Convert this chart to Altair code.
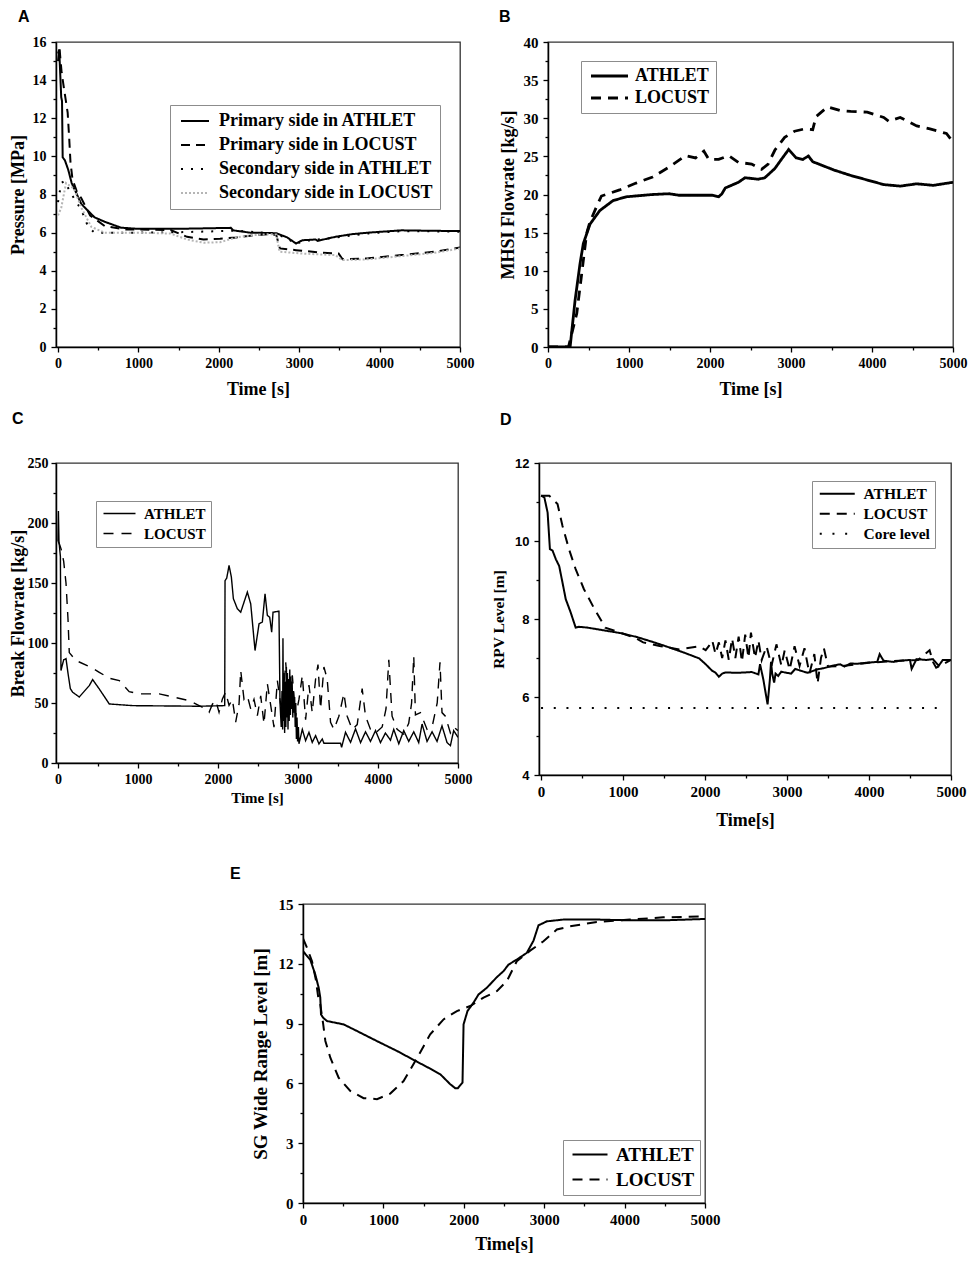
import altair as alt
import pandas as pd

SERIF = "Liberation Serif"
SANS = "Liberation Sans"

# ---------------- tick values ----------------
X_MAJOR = [0, 1000, 2000, 3000, 4000, 5000]
X_MINOR = [500, 1500, 2500, 3500, 4500]
A_Y_MAJOR = [0, 2, 4, 6, 8, 10, 12, 14, 16]
A_Y_MINOR = [1, 3, 5, 7, 9, 11, 13, 15]
B_Y_MAJOR = [0, 5, 10, 15, 20, 25, 30, 35, 40]
B_Y_MINOR = [2.5, 7.5, 12.5, 17.5, 22.5, 27.5, 32.5, 37.5]
C_Y_MAJOR = [0, 50, 100, 150, 200, 250]
C_Y_MINOR = [25, 75, 125, 175, 225]
D_Y_MAJOR = [4, 6, 8, 10, 12]
D_Y_MINOR = [5, 7, 9, 11]
E_Y_MAJOR = [0, 3, 6, 9, 12, 15]
E_Y_MINOR = [1.5, 4.5, 7.5, 10.5, 13.5]

# ---------------- panel A: pressure [MPa] ----------------
A_PRIMARY_ATHLET = [(0, 15.4), (15, 15.6), (40, 13.1), (50, 12.9), (58, 9.95), (85, 9.8), (127, 9.3),
                    (170, 8.6), (290, 7.5), (455, 6.8), (580, 6.57), (785, 6.26), (990, 6.2),
                    (1500, 6.2), (2150, 6.25), (2180, 6.12), (2385, 6.0), (2715, 5.97), (2850, 5.75),
                    (2960, 5.43), (3040, 5.6), (3205, 5.64), (3230, 5.57), (3450, 5.78), (3657, 5.92),
                    (3862, 6.0), (4068, 6.06), (4273, 6.12), (4600, 6.1), (5000, 6.08)]
A_PRIMARY_LOCUST = [(0, 15.0), (18, 15.7), (45, 14.4), (80, 13.4), (120, 12.3), (140, 10.9), (155, 9.7),
                    (180, 8.8), (230, 8.2), (290, 7.8), (400, 6.9), (580, 6.35), (825, 6.17),
                    (1400, 6.14), (1605, 5.78), (1810, 5.64), (2015, 5.68), (2220, 5.75), (2425, 5.85),
                    (2630, 5.92), (2715, 5.87), (2760, 5.17), (2960, 5.08), (3247, 4.96), (3490, 4.9),
                    (3540, 4.6), (3860, 4.65), (4273, 4.82), (4684, 5.0), (5000, 5.22)]
A_SECONDARY_ATHLET = [(0, 7.6), (40, 8.6), (80, 8.7), (170, 8.0), (290, 7.2), (375, 6.3), (455, 6.0),
                      (990, 6.0), (1500, 6.02), (2220, 6.1), (2700, 5.95), (2850, 5.7), (2960, 5.4),
                      (3040, 5.55), (3450, 5.74), (3862, 5.96), (4273, 6.08), (5000, 6.05)]
A_SECONDARY_LOCUST = [(0, 6.9), (40, 7.3), (100, 8.6), (200, 8.3), (290, 7.3), (415, 6.3), (580, 6.0),
                      (1000, 6.0), (1400, 5.95), (1605, 5.64), (1810, 5.47), (2015, 5.5), (2220, 5.75),
                      (2425, 5.87), (2630, 5.92), (2715, 5.9), (2755, 5.0), (3040, 4.9), (3450, 4.82),
                      (3535, 4.56), (3860, 4.6), (4273, 4.77), (4684, 4.94), (5000, 5.17)]

# ---------------- panel B: MHSI flowrate [kg/s] ----------------
B_ATHLET = [(0, 0), (273, 0), (334, 6.1), (395, 10.9), (436, 13.55), (518, 16.1), (640, 17.9),
            (803, 19.2), (966, 19.7), (1292, 20.0), (1496, 20.1), (1618, 19.9), (2025, 19.9),
            (2107, 19.7), (2148, 20.1), (2188, 20.85), (2351, 21.6), (2433, 22.2), (2596, 22.0),
            (2677, 22.2), (2800, 23.4), (2881, 24.6), (2971, 25.9), (3064, 24.8), (3146, 24.6),
            (3215, 25.05), (3268, 24.3), (3533, 23.2), (3737, 22.5), (3941, 21.9), (4145, 21.3),
            (4348, 21.1), (4552, 21.4), (4756, 21.2), (5000, 21.6)]
B_LOCUST = [(0, 0), (253, 0), (293, 1.75), (355, 4.4), (416, 9.6), (477, 14.9), (518, 16.4), (599, 18.4),
            (660, 19.8), (884, 20.6), (1088, 21.5), (1292, 22.3), (1496, 23.6), (1700, 25.1),
            (1822, 24.8), (1924, 25.7), (1985, 24.6), (2107, 24.6), (2229, 25.1), (2351, 24.2),
            (2514, 24.0), (2636, 23.3), (2718, 24.0), (2800, 25.8), (2922, 27.5), (3044, 28.3),
            (3166, 28.6), (3268, 28.5), (3309, 30.2), (3452, 31.5), (3615, 31.0), (3737, 30.9),
            (3941, 30.8), (4145, 30.1), (4206, 29.6), (4348, 30.1), (4552, 29.0), (4715, 28.6),
            (4919, 28.0), (5000, 26.9)]

# ---------------- panel C: break flowrate [kg/s] ----------------
C_ATHLET = [(0, 185), (5, 210), (12, 185), (30, 172), (37, 77), (71, 86), (100, 87), (129, 73),
            (154, 62), (183, 59), (266, 55), (391, 64.5), (433, 69.5), (516, 61.7), (641, 49.2),
            (932, 47.8), (1764, 47.3), (2084, 47.8), (2088, 152), (2109, 154), (2138, 164.6),
            (2167, 155), (2192, 137), (2242, 128.5), (2284, 125.7), (2325, 134), (2367, 142.4),
            (2409, 132.6), (2463, 93.7), (2513, 116), (2554, 117.4), (2588, 141), (2617, 123),
            (2646, 121.5), (2671, 109), (2688, 125.7), (2762, 126.5), (2775, 50), (2790, 30),
            (2800, 60), (2808, 28), (2812, 104), (2818, 35), (2826, 75), (2833, 25), (2840, 68),
            (2848, 30), (2855, 80), (2862, 38), (2868, 75), (2875, 28), (2882, 70), (2890, 35),
            (2897, 78), (2905, 40), (2912, 72), (2920, 45), (2927, 68), (2935, 38), (2942, 60),
            (2950, 42), (2958, 55), (2965, 30), (2972, 50), (2980, 20), (2988, 38), (2995, 18),
            (3005, 30), (3012, 16), (3054, 28), (3095, 18.6), (3137, 25.6), (3178, 17.2),
            (3220, 22.8), (3262, 15.9), (3303, 20), (3324, 16.5), (3532, 16.5), (3545, 13),
            (3594, 25.6), (3657, 17.2), (3719, 28.4), (3782, 17), (3844, 26), (3906, 18), (3969, 27),
            (4031, 17), (4093, 25), (4156, 19), (4197, 28), (4260, 16), (4322, 27), (4384, 18),
            (4447, 26), (4509, 17), (4551, 32.5), (4613, 18), (4676, 26), (4738, 18), (4800, 31),
            (4863, 17), (4905, 14.5), (4946, 27), (5000, 21.4)]
C_LOCUST = [(0, 185), (20, 182), (40, 178), (71, 168), (100, 150), (125, 120), (141, 92), (225, 85.4),
            (433, 79), (516, 75.6), (641, 70.6), (766, 68.7), (890, 59.5), (1015, 57.6), (1265, 57.6),
            (1473, 54.5), (1639, 52), (1764, 47.8), (1847, 45), (1889, 42.3), (1930, 49), (1972, 52),
            (2013, 42.3), (2055, 53.4), (2096, 59), (2138, 48), (2180, 53), (2221, 34), (2263, 49),
            (2284, 77), (2325, 53), (2367, 56), (2409, 45), (2450, 53), (2492, 39.5), (2534, 56),
            (2575, 32.5), (2617, 66), (2659, 48), (2700, 29.8), (2742, 68.7), (2804, 39), (2846, 84),
            (2887, 48), (2929, 73), (2970, 39), (3012, 53), (3054, 73), (3095, 36), (3137, 65),
            (3178, 42), (3220, 70), (3250, 82), (3282, 45), (3324, 80), (3365, 70), (3407, 34),
            (3449, 28), (3511, 39), (3574, 58), (3615, 39), (3678, 28), (3740, 32), (3802, 62),
            (3844, 39), (3906, 28), (3969, 25), (4052, 30), (4100, 45), (4135, 86), (4176, 39),
            (4239, 28), (4322, 24), (4384, 33), (4420, 50), (4447, 89), (4468, 40), (4530, 42),
            (4613, 28), (4676, 30), (4740, 50), (4775, 84), (4800, 42), (4842, 39), (4905, 25),
            (4946, 30), (5000, 27)]

# ---------------- panel D: RPV level [m] ----------------
D_ATHLET = [(0, 11.16), (40, 11.12), (80, 10.73), (108, 9.79), (141, 9.75), (181, 9.53), (221, 9.36),
            (261, 8.94), (301, 8.51), (361, 8.17), (422, 7.78), (462, 7.8), (562, 7.78), (763, 7.71),
            (964, 7.64), (1165, 7.54), (1365, 7.41), (1566, 7.27), (1767, 7.12), (1928, 6.99),
            (2008, 6.84), (2088, 6.67), (2130, 6.62), (2169, 6.52), (2210, 6.6), (2249, 6.63),
            (2400, 6.62), (2570, 6.64), (2651, 6.58), (2671, 6.84), (2711, 6.45), (2763, 5.81),
            (2791, 6.45), (2805, 6.9), (2819, 6.6), (2843, 6.37), (2860, 6.6), (2892, 6.54),
            (2930, 6.65), (2972, 6.63), (3050, 6.6), (3100, 6.72), (3173, 6.67), (3250, 6.62),
            (3373, 6.71), (3450, 6.74), (3574, 6.81), (3650, 6.84), (3700, 6.78), (3775, 6.86),
            (3850, 6.85), (3976, 6.88), (4100, 6.9), (4130, 7.1), (4177, 6.93), (4300, 6.9),
            (4378, 6.93), (4500, 6.95), (4520, 6.72), (4579, 6.97), (4700, 6.95), (4779, 6.97),
            (4850, 6.8), (4900, 6.95), (5000, 6.95)]
D_LOCUST = [(0, 11.16), (100, 11.16), (201, 10.95), (261, 10.39), (341, 9.79), (422, 9.28), (522, 8.77),
            (643, 8.29), (783, 7.78), (964, 7.65), (1165, 7.5), (1245, 7.4), (1446, 7.31), (1687, 7.22),
            (1928, 7.3), (2008, 7.2), (2048, 7.31), (2088, 7.45), (2128, 7.1), (2169, 7.4), (2209, 7.0),
            (2249, 7.45), (2290, 6.95), (2330, 7.5), (2370, 7.0), (2410, 7.55), (2450, 6.9), (2490, 7.6),
            (2530, 7.0), (2560, 7.65), (2610, 7.0), (2651, 7.45), (2691, 6.95), (2751, 7.3), (2811, 6.8),
            (2871, 7.35), (2932, 6.8), (2972, 7.2), (3032, 6.7), (3092, 7.3), (3153, 6.8), (3213, 7.25),
            (3273, 6.6), (3333, 7.1), (3373, 6.35), (3414, 7.0), (3450, 7.25), (3500, 6.78), (3700, 6.8),
            (4000, 6.88), (4300, 6.92), (4600, 6.95), (4739, 7.2), (4780, 6.9), (4819, 6.75), (5000, 6.95)]
D_CORE = [(0, 5.72), (4870, 5.72)]

# ---------------- panel E: SG wide range level [m] ----------------
E_ATHLET = [(0, 12.63), (91, 12.2), (153, 11.46), (195, 10.8), (215, 10.3), (224, 9.46), (249, 9.3),
            (298, 9.13), (505, 8.96), (671, 8.63), (837, 8.29), (961, 8.04), (1168, 7.63), (1375, 7.18),
            (1582, 6.74), (1707, 6.46), (1831, 5.96), (1893, 5.76), (1926, 5.76), (1984, 6.04),
            (1997, 8.96), (2046, 9.63), (2121, 10.05), (2183, 10.46), (2287, 10.8), (2411, 11.33),
            (2494, 11.63), (2556, 11.96), (2659, 12.21), (2784, 12.55), (2867, 13.16), (2929, 13.93),
            (3033, 14.13), (3240, 14.22), (3654, 14.22), (4068, 14.18), (4482, 14.18), (5000, 14.25)]
E_LOCUST = [(0, 13.27), (50, 12.8), (112, 12.13), (160, 11.2), (190, 10.3), (215, 9.96), (249, 9.04),
            (278, 8.13), (340, 7.29), (443, 6.29), (588, 5.62), (754, 5.26), (920, 5.21), (1085, 5.49),
            (1251, 6.12), (1417, 7.26), (1582, 8.46), (1748, 9.21), (1914, 9.63), (2080, 9.88),
            (2245, 10.3), (2411, 10.63), (2535, 11.13), (2659, 12.13), (2825, 12.66), (2991, 13.13),
            (3157, 13.72), (3323, 13.88), (3654, 14.1), (4068, 14.22), (4482, 14.33), (5000, 14.38)]


def to_df(series):
    rows = []
    for name, pts in series:
        for i, (t, v) in enumerate(pts):
            rows.append({"series": name, "t": t, "v": v, "i": i})
    return pd.DataFrame(rows)


SYM_H = 10  # height budget of a legend symbol cell


def panel(series, colors, dashes, sw, xdom, ydom, ymajor, yminor, xtitle, ytitle, letter, w, h, st):
    names = [n for n, _ in series]
    df = to_df(series)
    r = SYM_H / 2
    k = st["sym"] / r - 1
    leg = alt.Legend(title=None, orient="none", legendX=st["lx"], legendY=st["ly"],
                     direction="vertical", symbolType=f"M-1,0L{k:.3f},0", symbolSize=SYM_H ** 2,
                     symbolStrokeWidth=sw, labelFont=SERIF, labelFontWeight="bold",
                     labelFontSize=st["lfs"], labelColor="black", strokeColor="#8c8c8c",
                     fillColor="white", padding=st["pad"], rowPadding=st["rowgap"] - st["lfs"],
                     labelOffset=st["sym"] - SYM_H + st["loff"], labelLimit=400)
    xs = alt.Scale(domain=xdom, nice=False, zero=False)
    ys = alt.Scale(domain=ydom, nice=False, zero=False)
    base = alt.Chart(df)
    lines = base.mark_line(strokeWidth=sw, clip=True).encode(
        x=alt.X("t:Q", scale=xs,
                axis=alt.Axis(values=X_MAJOR, format="d", orient="bottom", tickSize=5,
                              title=xtitle, titleFontSize=st["xts"], labelFontSize=st["xls"],
                              labelPadding=4, titlePadding=st["xtp"])),
        y=alt.Y("v:Q", scale=ys,
                axis=alt.Axis(values=ymajor, format="d", orient="left", tickSize=5,
                              title=ytitle, titleFontSize=st["yts"], labelFontSize=st["yls"],
                              labelFont=st.get("ylf", SERIF), labelPadding=st.get("ylp", 5),
                              titlePadding=st["ytp"])),
        color=alt.Color("series:N", scale=alt.Scale(domain=names, range=colors), legend=leg),
        strokeDash=alt.StrokeDash("series:N", scale=alt.Scale(domain=names, range=dashes), legend=leg),
        order="i:Q",
    )
    minor = base.mark_point(opacity=0).encode(
        x=alt.X("t:Q", scale=xs,
                axis=alt.Axis(values=X_MINOR, orient="bottom", labels=False, domain=False,
                              tickSize=3, title=None)),
        y=alt.Y("v:Q", scale=ys,
                axis=alt.Axis(values=yminor, orient="left", labels=False, domain=False,
                              tickSize=3, title=None)),
    )
    return alt.layer(lines, minor).resolve_axis(x="independent", y="independent").properties(
        width=w, height=h,
        title=alt.TitleParams(letter, anchor="start", frame="group", font=SANS, fontSize=16,
                              fontWeight="bold", color="black", dx=st["tdx"], offset=st["toff"]),
    )


SOLID = [1, 0]

chart_a = panel(
    [("Primary side in ATHLET", A_PRIMARY_ATHLET), ("Primary side in LOCUST", A_PRIMARY_LOCUST),
     ("Secondary side in ATHLET", A_SECONDARY_ATHLET), ("Secondary side in LOCUST", A_SECONDARY_LOCUST)],
    ["black", "black", "black", "#b5b5b5"], [SOLID, [9, 6], [2, 8], [2, 2]], 2,
    [-25, 5000], [0, 16], A_Y_MAJOR, A_Y_MINOR, "Time [s]", "Pressure [MPa]", "A", 404, 305,
    dict(lx=114, ly=63, sym=28, lfs=18, pad=7, rowgap=24, loff=6, xts=18, xls=14, xtp=10,
         yts=18, yls=14, ytp=5, tdx=-38, toff=10))

chart_b = panel(
    [("ATHLET", B_ATHLET), ("LOCUST", B_LOCUST)],
    ["black", "black"], [SOLID, [10, 7]], 2.8,
    [0, 5000], [0, 40], B_Y_MAJOR, B_Y_MINOR, "Time [s]", "MHSI Flowrate [kg/s]", "B", 405, 305,
    dict(lx=33, ly=19, sym=37, lfs=18, pad=6, rowgap=22, loff=3, xts=18, xls=14, xtp=10,
         yts=18, yls=15, ytp=6, tdx=-49, toff=10))

chart_c = panel(
    [("ATHLET", C_ATHLET), ("LOCUST", C_LOCUST)],
    ["black", "black"], [SOLID, [10, 8]], 1.4,
    [-25, 5000], [0, 250], C_Y_MAJOR, C_Y_MINOR, "Time [s]", "Break Flowrate [kg/s]", "C", 402, 300,
    dict(lx=40, ly=38, sym=32, lfs=15, pad=5, rowgap=19, loff=6, xts=15, xls=14, xtp=4,
         yts=18, yls=14, ylp=3, ytp=0, tdx=-44, toff=29))

chart_d = panel(
    [("ATHLET", D_ATHLET), ("LOCUST", D_LOCUST), ("Core level", D_CORE)],
    ["black", "black", "black"], [SOLID, [10, 7], [2, 10.7]], 2,
    [-25, 5000], [4, 12], D_Y_MAJOR, D_Y_MINOR, "Time[s]", "RPV Level [m]", "D", 412, 312,
    dict(lx=273, ly=18, sym=35, lfs=15.5, pad=5, rowgap=18.5, loff=6, xts=18, xls=15, xtp=12,
         yts=15.5, yls=13, ylf=SANS, ytp=8, tdx=-39, toff=29))

chart_e = panel(
    [("ATHLET", E_ATHLET), ("LOCUST", E_LOCUST)],
    ["black", "black"], [SOLID, [10, 7]], 2,
    [0, 5000], [0, 15], E_Y_MAJOR, E_Y_MINOR, "Time[s]", "SG Wide Range Level [m]", "E", 402, 299,
    dict(lx=260, ly=236, sym=35, lfs=19, pad=5, rowgap=24, loff=4, xts=18, xls=15, xtp=8,
         yts=19, yls=15, ytp=8, tdx=-73, toff=15))

spacer = alt.Chart(pd.DataFrame({"v": [0]})).mark_point(opacity=0).properties(
    width=172, height=4, view=alt.ViewBackground(stroke="transparent"))

IND = dict(color="independent", strokeDash="independent")

row1 = alt.hconcat(chart_a, chart_b, spacing=88, bounds="flush").resolve_scale(**IND)
row2 = alt.hconcat(chart_c, chart_d, spacing=81, bounds="flush").resolve_scale(**IND)
row3 = alt.hconcat(spacer, chart_e, spacing=0).resolve_scale(**IND)
top2 = alt.vconcat(row1, row2, spacing=11).resolve_scale(**IND)

chart = alt.vconcat(top2, row3, spacing=35).resolve_scale(**IND).properties(
    padding=0
).configure_view(
    stroke="#333333", strokeWidth=1.3
).configure_axis(
    domainColor="black", domainWidth=1.5, tickColor="black", tickWidth=1.3,
    labelColor="black", titleColor="black", labelFont=SERIF, titleFont=SERIF,
    labelFontWeight="bold", titleFontWeight="bold", grid=False, labelFlush=False,
    labelOverlap=False, labelBound=False
)

chart.save("out.html", embed_options={"renderer": "svg", "actions": False})
